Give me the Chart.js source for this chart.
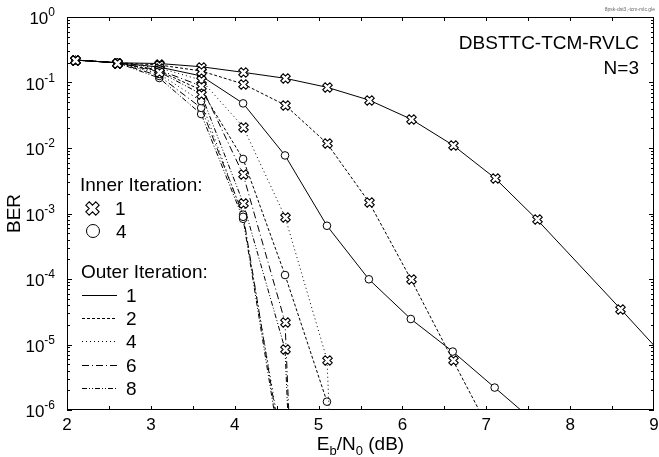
<!DOCTYPE html>
<html lang="en">
<head>
<meta charset="UTF-8">
<title>DBSTTC-TCM-RVLC BER</title>
<script src="https://cdn.jsdelivr.net/npm/chart.js"></script>
<style>
    body { margin: 0; background: #fff; }
    #wrap { width: 659px; height: 457px; }
</style>
</head>
<body>
<div id="wrap"><canvas id="berChart" width="659" height="457"></canvas></div>
<script>
// Eb/N0 points (dB) shared by all curves
var ebn0 = [2.1, 2.6, 3.1, 3.6, 4.1, 4.6, 5.1, 5.6, 6.1, 6.6, 7.1, 7.6, 8.1, 8.6, 9.1];

// BER, inner iteration 1 (crosses)
var outer1Inner1 = [0.22, 0.20, 0.195, 0.174, 0.143, 0.116, 0.0845, 0.054, 0.0277, 0.0111, 0.0035, 8.2e-4, null, 3.5e-5, 7e-6];
var outer2Inner1 = [0.22, 0.20, 0.185, 0.150, 0.095, 0.0453, 0.0118, 1.5e-3, 1.0e-4, 5.8e-6, 3.5e-7];
var outer4Inner1 = [0.22, 0.20, 0.167, 0.109, 0.0211, 8.9e-4, 5.9e-6, 1e-20];
var outer6Inner1 = [0.22, 0.20, 0.155, 0.0885, 3.96e-3, 2.2e-5, 1e-20];
var outer8Inner1 = [0.22, 0.20, 0.145, 0.0667, 1.46e-3, 8.5e-6, 1e-20];

// inner iteration 4 (circles)
var outer1Inner4 = [0.22, 0.20, 0.172, 0.126, 0.048, 7.7e-3, 6.5e-4, 9.9e-5, 2.45e-5, 7.8e-6, 2.2e-6, 6.2e-7];
var outer2Inner4 = [0.22, 0.20, 0.150, 0.0768, 6.8e-3, 1.15e-4, 1.34e-6];
var outer4Inner4 = [0.22, 0.20, 0.135, 0.052, 8.9e-4, 1.5e-7];
var outer6Inner4 = [0.22, 0.20, 0.126, 0.041, 9.6e-4, 1.2e-7];
var outer8Inner4 = [0.22, 0.20, 0.117, 0.033, 8.3e-4, 9e-8];

var xTicks = [2, 3, 4, 5, 6, 7, 8, 9];
var yExponents = [0, -1, -2, -3, -4, -5, -6];
var outerLabels = ['1', '2', '4', '6', '8'];
var innerLabels = ['1', '4'];

var FONT = '"Liberation Sans", Arial, sans-serif';

// line styles for outer iterations 1, 2, 4, 6, 8
var dashes = [[], [3, 2], [1, 3], [7, 3, 1, 3], [5, 2, 1, 2, 1, 2]];

// outlined X marker
function drawCross(g, x, y, size) {
    var b = size / 2, a = size * 0.17;
    var pts = [[a, b], [a, a], [b, a], [b, -a], [a, -a], [a, -b], [-a, -b], [-a, -a], [-b, -a], [-b, a], [-a, a], [-a, b]];
    g.save();
    g.translate(x, y);
    g.rotate(Math.PI / 4);
    g.beginPath();
    pts.forEach(function (p, i) { if (i === 0) g.moveTo(p[0], p[1]); else g.lineTo(p[0], p[1]); });
    g.closePath();
    g.fillStyle = '#fff';
    g.fill();
    g.setLineDash([]);
    g.lineWidth = 1.1;
    g.strokeStyle = '#000';
    g.stroke();
    g.restore();
}

function toPoints(vals) {
    var pts = [];
    for (var i = 0; i < vals.length; i++) {
        if (vals[i] !== null) pts.push({ x: ebn0[i], y: vals[i] });
    }
    return pts;
}

function series(vals, dash, inner) {
    return {
        data: toPoints(vals),
        inner: inner,
        borderColor: '#000',
        borderWidth: 1,
        borderDash: dash,
        backgroundColor: '#fff',
        pointStyle: 'circle',
        pointRadius: inner === 1 ? 0 : 3.8,
        pointBorderWidth: 1,
        pointBorderColor: '#000',
        pointBackgroundColor: '#fff',
        tension: 0,
        clip: 0
    };
}

// draw a run of text pieces with sub/superscripts
function textRuns(ctx, runs, x, y, align) {
    var w = 0;
    runs.forEach(function (r) { ctx.font = r.size + 'px ' + FONT; r.w = ctx.measureText(r.t).width; w += r.w; });
    var cx = align === 'right' ? x - w : (align === 'center' ? x - w / 2 : x);
    ctx.textAlign = 'left';
    ctx.textBaseline = 'alphabetic';
    runs.forEach(function (r) {
        ctx.font = r.size + 'px ' + FONT;
        ctx.fillText(r.t, cx, y + (r.dy || 0));
        cx += r.w;
    });
}

var crossMarks = {
    id: 'crossMarks',
    afterDatasetsDraw: function (chart) {
        var ctx = chart.ctx;
        var area = chart.chartArea;
        ctx.save();
        ctx.beginPath();
        ctx.rect(area.left, area.top, area.right - area.left, area.bottom - area.top);
        ctx.clip();
        chart.data.datasets.forEach(function (ds, i) {
            if (ds.inner !== 1) return;
            chart.getDatasetMeta(i).data.forEach(function (el) {
                if (el.y > area.bottom + 10 || el.x > area.right + 10) return;
                drawCross(ctx, Math.round(el.x) + 0.5, Math.round(el.y) + 0.5, 10);
            });
        });
        ctx.restore();
    }
};

var decorations = {
    id: 'decorations',
    afterDraw: function (chart) {
        var ctx = chart.ctx;
        var area = chart.chartArea;
        var xs = chart.scales.x, ys = chart.scales.y;
        ctx.save();
        ctx.fillStyle = '#000';
        ctx.strokeStyle = '#000';
        ctx.lineWidth = 1;
        ctx.setLineDash([]);

        // frame
        ctx.strokeRect(area.left + 0.5, area.top + 0.5, area.right - area.left - 1, area.bottom - area.top - 1);

        // inward ticks, x every 0.5 dB
        ctx.beginPath();
        for (var v = 2.5; v < 9; v += 0.5) {
            var px = Math.round(xs.getPixelForValue(v)) + 0.5;
            ctx.moveTo(px, area.bottom); ctx.lineTo(px, area.bottom - 4);
            ctx.moveTo(px, area.top); ctx.lineTo(px, area.top + 4);
        }
        // y ticks, decades and minors
        for (var e = -6; e <= 0; e++) {
            for (var m = 1; m <= 9; m++) {
                var val = m * Math.pow(10, e);
                if (val > 1) break;
                var py = Math.round(ys.getPixelForValue(val)) + 0.5;
                var len = m === 1 ? 5 : 3;
                ctx.moveTo(area.left, py); ctx.lineTo(area.left + len, py);
                ctx.moveTo(area.right, py); ctx.lineTo(area.right - len, py);
            }
        }
        ctx.stroke();

        // tick labels
        xTicks.forEach(function (t) {
            textRuns(ctx, [{ t: String(t), size: 17 }], xs.getPixelForValue(t), area.bottom + 20, 'center');
        });
        yExponents.forEach(function (e) {
            var py = ys.getPixelForValue(Math.pow(10, e));
            textRuns(ctx, [{ t: '10', size: 17 }, { t: String(e), size: 12, dy: -8 }], area.left - 12, py + 7, 'right');
        });

        // axis titles
        textRuns(ctx, [{ t: 'E', size: 19 }, { t: 'b', size: 13, dy: 5 }, { t: '/N', size: 19 }, { t: '0', size: 13, dy: 5 }, { t: ' (dB)', size: 19 }],
            (area.left + area.right) / 2, 450, 'center');
        ctx.save();
        ctx.translate(20, (area.top + area.bottom) / 2);
        ctx.rotate(-Math.PI / 2);
        textRuns(ctx, [{ t: 'BER', size: 19 }], 0, 0, 'center');
        ctx.restore();

        // annotation
        textRuns(ctx, [{ t: 'DBSTTC-TCM-RVLC', size: 19 }], 639, 49, 'right');
        textRuns(ctx, [{ t: 'N=3', size: 19 }], 639, 74, 'right');
        ctx.fillStyle = '#666';
        textRuns(ctx, [{ t: '8psk-dst3,-tcm-rvlc.gle', size: 5 }], 655, 11, 'right');
        ctx.fillStyle = '#000';

        // legend: inner iterations
        textRuns(ctx, [{ t: 'Inner Iteration:', size: 19 }], 80, 191, 'left');
        drawCross(ctx, 92.5, 208.5, 14);
        textRuns(ctx, [{ t: innerLabels[0], size: 19 }], 115, 215, 'left');
        ctx.beginPath();
        ctx.arc(93, 231, 6.5, 0, Math.PI * 2);
        ctx.fillStyle = '#fff'; ctx.fill(); ctx.stroke();
        ctx.fillStyle = '#000';
        textRuns(ctx, [{ t: innerLabels[1], size: 19 }], 116, 238, 'left');

        // legend: outer iterations
        textRuns(ctx, [{ t: 'Outer Iteration:', size: 19 }], 81, 278, 'left');
        outerLabels.forEach(function (lab, i) {
            var ly = 295 + i * 23.2;
            ctx.beginPath();
            ctx.setLineDash(dashes[i]);
            ctx.moveTo(82, Math.round(ly) + 0.5);
            ctx.lineTo(117, Math.round(ly) + 0.5);
            ctx.stroke();
            ctx.setLineDash([]);
            textRuns(ctx, [{ t: lab, size: 19 }], 126, ly + 7, 'left');
        });
        ctx.restore();
    }
};

var ctx = document.getElementById('berChart').getContext('2d');
var berChart = new Chart(ctx, {
    type: 'line',
    data: {
        datasets: [
            series(outer1Inner1, dashes[0], 1),
            series(outer2Inner1, dashes[1], 1),
            series(outer4Inner1, dashes[2], 1),
            series(outer6Inner1, dashes[3], 1),
            series(outer8Inner1, dashes[4], 1),
            series(outer1Inner4, dashes[0], 4),
            series(outer2Inner4, dashes[1], 4),
            series(outer4Inner4, dashes[2], 4),
            series(outer6Inner4, dashes[3], 4),
            series(outer8Inner4, dashes[4], 4)
        ]
    },
    options: {
        responsive: false,
        animation: false,
        devicePixelRatio: 1,
        layout: { padding: { left: 67, right: 4, top: 17, bottom: 47 } },
        plugins: { legend: { display: false }, tooltip: { enabled: false } },
        scales: {
            x: { type: 'linear', min: 2, max: 9, display: false },
            y: { type: 'logarithmic', min: 1e-6, max: 1, display: false }
        }
    },
    plugins: [crossMarks, decorations]
});
</script>
</body>
</html>
